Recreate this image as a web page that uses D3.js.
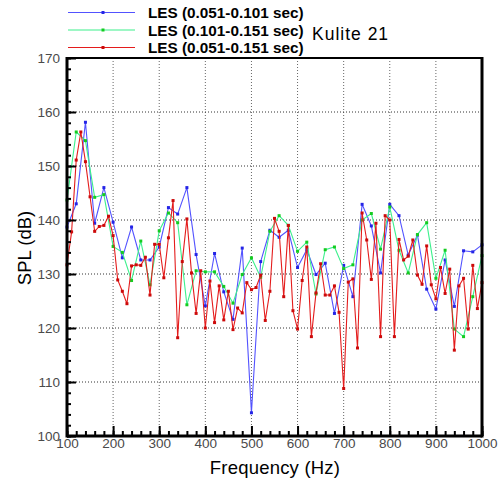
<!DOCTYPE html>
<html>
<head>
<meta charset="utf-8">
<script src="https://cdn.jsdelivr.net/npm/d3@7"></script>
<style>
  html, body { margin: 0; padding: 0; background: #fff; }
  svg { display: block; font-family: "Liberation Sans", Arial, sans-serif; }
</style>
</head>
<body>
<svg id="chart" width="501" height="482"></svg>
<script>
// Frequency bins (Hz): 20 Hz resolution for the 0.05 s windows, 10 Hz for the 0.1 s window
const freqCoarse = d3.range(100, 1001, 20);
const freqFine = d3.range(100, 1001, 10);

// SPL (dB), LES 0.051-0.101 sec
const splEarly = [
  138.7, 143.0, 158.1, 139.4, 146.0, 139.6, 133.0, 138.7, 132.6, 132.6,
  135.0, 142.3, 141.1, 146.0, 133.6, 124.1, 133.8, 126.7, 121.6, 134.8,
  104.3, 132.3, 138.1, 136.8, 138.1, 131.2, 134.5, 129.9, 132.0, 122.7,
  131.6, 125.8, 142.9, 138.9, 130.2, 142.9, 140.8, 133.5, 137.2, 127.2,
  123.5, 132.6, 124.0, 134.3, 134.1, 135.4
];

// SPL (dB), LES 0.101-0.151 sec
const splLate = [
  143.7, 156.3, 154.7, 144.2, 144.7, 135.1, 134.0, 128.8, 136.1, 128.0,
  138.0, 141.3, 139.5, 124.3, 130.6, 130.4, 130.4, 127.7, 124.6, 129.9,
  133.0, 129.4, 137.9, 140.8, 139.0, 134.2, 135.9, 126.3, 134.5, 135.0,
  131.0, 131.7, 140.0, 141.2, 134.6, 142.4, 134.4, 130.2, 137.3, 139.5,
  129.2, 134.4, 119.8, 118.4, 125.8, 133.4
];

// SPL (dB), LES 0.051-0.151 sec
const splFull = [
  131.7, 137.8, 151.1, 156.3, 150.8, 144.3, 137.9, 138.8, 139.0, 140.7,
  137.1, 128.9, 126.8, 124.5, 131.5, 131.7, 131.6, 133.1, 126.1, 135.5,
  135.5, 129.3, 136.7, 143.6, 118.2, 132.3, 140.2, 130.2, 122.7, 130.6,
  120.0, 128.7, 121.0, 127.8, 121.5, 126.8, 119.7, 123.7, 122.8, 128.4,
  127.1, 127.5, 129.8, 121.4, 126.8, 140.3, 137.9, 125.8, 139.0, 123.2,
  119.8, 128.8, 135.0, 118.4, 126.5, 131.9, 126.1, 126.1, 127.8, 122.9,
  108.8, 128.5, 129.1, 116.3, 141.3, 136.3, 129.0, 139.4, 118.4, 140.8,
  140.0, 118.4, 136.4, 132.6, 133.3, 136.3, 129.8, 128.1, 135.2, 128.0,
  125.4, 131.2, 126.4, 130.9, 115.9, 127.8, 129.2, 119.8, 131.6, 123.6,
  128.4
];

const seriesNames = ["LES (0.051-0.101 sec)", "LES (0.101-0.151 sec)", "LES (0.051-0.151 sec)"];
const xTicks = d3.range(100, 1001, 100);
const yTicks = d3.range(100, 171, 10);

const series = [
  { name: seriesNames[0], freq: freqCoarse, spl: splEarly, line: "#5252ff", mark: "#2424e6" },
  { name: seriesNames[1], freq: freqCoarse, spl: splLate,  line: "#3cf08c", mark: "#14cc20" },
  { name: seriesNames[2], freq: freqFine,   spl: splFull,  line: "#e41c1c", mark: "#cc0a0a" }
];

const svg = d3.select("#chart");
const plotLeft = 67, plotRight = 482, plotTop = 58, plotBottom = 436;

const x = d3.scaleLinear().domain([100, 1000]).range([plotLeft, plotRight]);
const y = d3.scaleLinear().domain([100, 170]).range([plotBottom, plotTop]);

// dotted grid
const grid = svg.append("g");
grid.selectAll("line.v").data(xTicks.slice(1, -1)).join("line")
  .attr("x1", d => x(d)).attr("x2", d => x(d))
  .attr("y1", plotTop).attr("y2", plotBottom)
  .attr("stroke", "#666").attr("stroke-width", 1).attr("stroke-dasharray", "1,2");
grid.selectAll("line.h").data(yTicks.slice(1, -1)).join("line")
  .attr("x1", plotLeft).attr("x2", plotRight)
  .attr("y1", d => y(d)).attr("y2", d => y(d))
  .attr("stroke", "#333").attr("stroke-width", 1).attr("stroke-dasharray", "1,2");

// data lines and square markers
const line = d3.line().x(d => x(d[0])).y(d => y(d[1]));
series.forEach(s => {
  const pts = s.freq.map((f, i) => [f, s.spl[i]]);
  const g = svg.append("g");
  g.append("path").datum(pts)
    .attr("d", line).attr("fill", "none")
    .attr("stroke", s.line).attr("stroke-width", 1.1);
  g.selectAll("rect").data(pts).join("rect")
    .attr("x", d => x(d[0]) - 1.5).attr("y", d => y(d[1]) - 1.5)
    .attr("width", 3).attr("height", 3).attr("fill", s.mark);
});

// axes with inward ticks
const tickColor = "#000";
const plain = d3.format("d");
const yMinor = svg.append("g").attr("transform", `translate(${plotLeft},0)`)
  .call(d3.axisLeft(y).tickValues(d3.range(100, 171, 2)).tickSize(-4).tickFormat(""));
const yMajor = svg.append("g").attr("transform", `translate(${plotLeft},0)`)
  .call(d3.axisLeft(y).tickValues(yTicks).tickFormat(plain).tickSize(-9).tickPadding(7));
const xMinor = svg.append("g").attr("transform", `translate(0,${plotBottom})`)
  .call(d3.axisBottom(x).tickValues(d3.range(100, 1001, 20)).tickSize(-5).tickFormat(""));
const xMajor = svg.append("g").attr("transform", `translate(0,${plotBottom})`)
  .call(d3.axisBottom(x).tickValues(xTicks).tickFormat(plain).tickSize(-10).tickPadding(2));

[yMinor, yMajor, xMinor, xMajor].forEach(a => {
  a.select(".domain").remove();
  a.selectAll(".tick line").attr("stroke", tickColor).attr("stroke-width", 2);
  a.selectAll(".tick text").attr("fill", "#4a4a4a").attr("font-size", 13.5)
    .attr("font-family", "'Liberation Sans', Arial, sans-serif");
});

// frame
svg.append("line").attr("x1", plotLeft).attr("x2", plotRight).attr("y1", plotTop).attr("y2", plotTop)
  .attr("stroke", "#000").attr("stroke-width", 2);
svg.append("line").attr("x1", plotLeft).attr("x2", plotLeft).attr("y1", plotTop - 1).attr("y2", plotBottom + 1.5)
  .attr("stroke", "#000").attr("stroke-width", 3);
svg.append("line").attr("x1", plotRight).attr("x2", plotRight).attr("y1", plotTop - 1).attr("y2", plotBottom + 1.5)
  .attr("stroke", "#000").attr("stroke-width", 3);
svg.append("line").attr("x1", plotLeft).attr("x2", plotRight).attr("y1", plotBottom).attr("y2", plotBottom)
  .attr("stroke", "#000").attr("stroke-width", 3);

// axis titles
svg.append("text").attr("x", 275).attr("y", 474)
  .attr("text-anchor", "middle").attr("font-size", 18.5).attr("fill", "#000")
  .attr("letter-spacing", 0.2)
  .text("Frequency (Hz)");
svg.append("text").attr("transform", "translate(31,248) rotate(-90)")
  .attr("text-anchor", "middle").attr("font-size", 18.5).attr("fill", "#000")
  .text("SPL (dB)");

// legend
const legendY = [12.5, 30, 47.5];
series.forEach((s, i) => {
  const g = svg.append("g").attr("transform", `translate(0,${legendY[i]})`);
  g.append("line").attr("x1", 68).attr("x2", 135).attr("y1", 0).attr("y2", 0)
    .attr("stroke", s.line).attr("stroke-width", 1.1);
  g.append("rect").attr("x", 101.5).attr("y", -1.5).attr("width", 3).attr("height", 3)
    .attr("fill", s.mark);
  g.append("text").attr("x", 148).attr("y", 5.5)
    .attr("font-size", 15.3).attr("font-weight", "bold").attr("fill", "#000")
    .text(s.name);
});
svg.append("text").attr("x", 312).attr("y", 40)
  .attr("font-size", 17.5).attr("fill", "#000").attr("letter-spacing", 1)
  .text("Kulite 21");
</script>
</body>
</html>
